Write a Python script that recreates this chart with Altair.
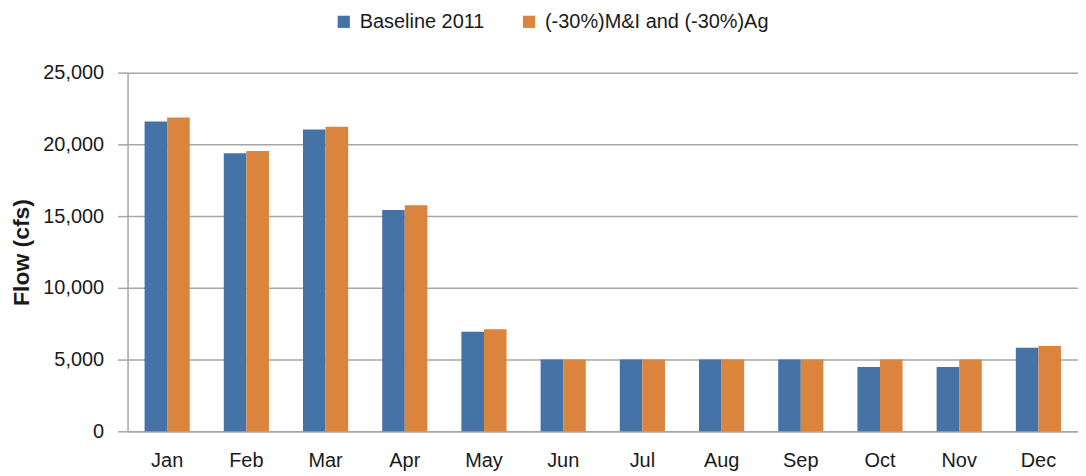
import altair as alt
import pandas as pd

months = ["Jan", "Feb", "Mar", "Apr", "May", "Jun", "Jul", "Aug", "Sep", "Oct", "Nov", "Dec"]
series_names = ["Baseline 2011", "(-30%)M&I and (-30%)Ag"]
baseline = [21600, 19380, 21030, 15420, 6930, 5000, 5000, 5000, 5000, 4480, 4480, 5820]
reduced = [21870, 19530, 21220, 15750, 7120, 5000, 5000, 5000, 5000, 5000, 5000, 5950]
colors = ["#4572A7", "#DB843D"]

rows = []
for m, b, r in zip(months, baseline, reduced):
    rows.append({"month": m, "series": series_names[0], "flow": b})
    rows.append({"month": m, "series": series_names[1], "flow": r})
df = pd.DataFrame(rows)

font = "Liberation Sans"

chart = alt.Chart(df).mark_bar().encode(
    x=alt.X("month:N", sort=months,
            scale=alt.Scale(paddingInner=0.43, paddingOuter=0.215),
            axis=alt.Axis(title=None, labelAngle=0, ticks=False, domain=True,
                          domainColor="#a6a6a6", domainWidth=1.5,
                          labelFontSize=20, labelFont=font, labelColor="#1a1a1a",
                          labelPadding=19, grid=False)),
    xOffset=alt.XOffset("series:N", sort=series_names),
    y=alt.Y("flow:Q",
            scale=alt.Scale(domain=[0, 25000], nice=False),
            axis=alt.Axis(title="Flow (cfs)", values=[0, 5000, 10000, 15000, 20000, 25000],
                          format=",d", grid=True, gridColor="#a6a6a6", gridWidth=1.5,
                          domain=True, domainColor="#a6a6a6", domainWidth=1.5,
                          ticks=True, tickSize=10, tickColor="#a6a6a6", tickWidth=1.5,
                          labelFontSize=20, labelFont=font, labelColor="#1a1a1a",
                          labelPadding=14, titleFont=font, titleFontSize=23,
                          titleFontWeight="bold", titleColor="#1a1a1a", titlePadding=9)),
    color=alt.Color("series:N", sort=series_names,
                    scale=alt.Scale(domain=series_names, range=colors),
                    legend=alt.Legend(title=None, orient="none", direction="horizontal",
                                      legendX=207, legendY=-61, symbolType="square",
                                      symbolSize=150, symbolStrokeWidth=0,
                                      labelFontSize=20, labelFont=font, labelColor="#1a1a1a",
                                      labelOffset=6, labelLimit=0, columnPadding=34, padding=0)),
).properties(
    width=954,
    height=360,
    padding={"left": 120, "top": 64, "right": 0, "bottom": 44},
    autosize=alt.AutoSizeParams(type="none"),
).configure_view(stroke=None)

chart.save("out.html", embed_options={"renderer": "svg", "actions": False})
